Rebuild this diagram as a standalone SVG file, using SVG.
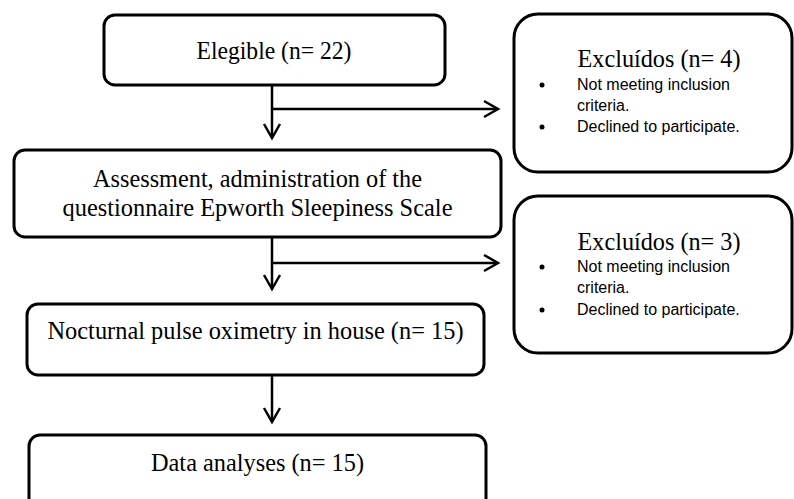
<svg xmlns="http://www.w3.org/2000/svg" width="794" height="499" viewBox="0 0 794 499">
<style>
.box{fill:#fff;stroke:#000;stroke-width:3}
.main{font-family:"Liberation Serif","Times New Roman",serif;font-size:26px;fill:#000;text-anchor:middle}
.bul{font-family:"Liberation Sans",Arial,sans-serif;font-size:16px;fill:#000}
.con{fill:none;stroke:#000;stroke-width:2.5}
</style>
<defs>
<marker id="ah" markerUnits="userSpaceOnUse" markerWidth="20" markerHeight="20" viewBox="-16 -10 20 20" refX="0" refY="0" orient="auto">
<path d="M-14,-8 L0,0 L-14,8" fill="none" stroke="#000" stroke-width="2.5"/>
</marker>
</defs>
<rect width="794" height="499" fill="#fff"/>
<g id="connectors">
<path class="con" d="M272,85 V138" marker-end="url(#ah)"/>
<path class="con" d="M272,109 H498" marker-end="url(#ah)"/>
<path class="con" d="M272,237 V289" marker-end="url(#ah)"/>
<path class="con" d="M272,263 H498" marker-end="url(#ah)"/>
<path class="con" d="M272,375 V422" marker-end="url(#ah)"/>
</g>
<g id="elegible">
<rect class="box" x="104" y="15" width="341" height="70" rx="11"/>
<text class="main" x="274" y="59" textLength="155" lengthAdjust="spacingAndGlyphs">Elegible (n= 22)</text>
</g>
<g id="excluidos1">
<rect class="box" x="514" y="14" width="278" height="158" rx="24"/>
<text class="main" x="659" y="67" textLength="163" lengthAdjust="spacingAndGlyphs">Excluídos (n= 4)</text>
<circle cx="542" cy="85" r="2.5"/>
<text class="bul" x="577" y="90">Not meeting inclusion</text>
<text class="bul" x="577" y="111">criteria.</text>
<circle cx="542" cy="127" r="2.5"/>
<text class="bul" x="577" y="132">Declined to participate.</text>
</g>
<g id="assessment">
<rect class="box" x="14" y="150" width="487" height="87" rx="11"/>
<text class="main" x="257.5" y="187" textLength="329" lengthAdjust="spacingAndGlyphs">Assessment, administration of the</text>
<text class="main" x="257.5" y="216" textLength="390" lengthAdjust="spacingAndGlyphs">questionnaire Epworth Sleepiness Scale</text>
</g>
<g id="excluidos2">
<rect class="box" x="514" y="196" width="278" height="157" rx="24"/>
<text class="main" x="659" y="250" textLength="163" lengthAdjust="spacingAndGlyphs">Excluídos (n= 3)</text>
<circle cx="542" cy="267" r="2.5"/>
<text class="bul" x="577" y="272">Not meeting inclusion</text>
<text class="bul" x="577" y="293">criteria.</text>
<circle cx="542" cy="310" r="2.5"/>
<text class="bul" x="577" y="315">Declined to participate.</text>
</g>
<g id="oximetry">
<rect class="box" x="27" y="304" width="457" height="71" rx="11"/>
<text class="main" x="255.5" y="339" textLength="416" lengthAdjust="spacingAndGlyphs">Nocturnal pulse oximetry in house (n= 15)</text>
</g>
<g id="analyses">
<rect class="box" x="29" y="435" width="457" height="90" rx="11"/>
<text class="main" x="257.5" y="471" textLength="213" lengthAdjust="spacingAndGlyphs">Data analyses (n= 15)</text>
</g>
</svg>
